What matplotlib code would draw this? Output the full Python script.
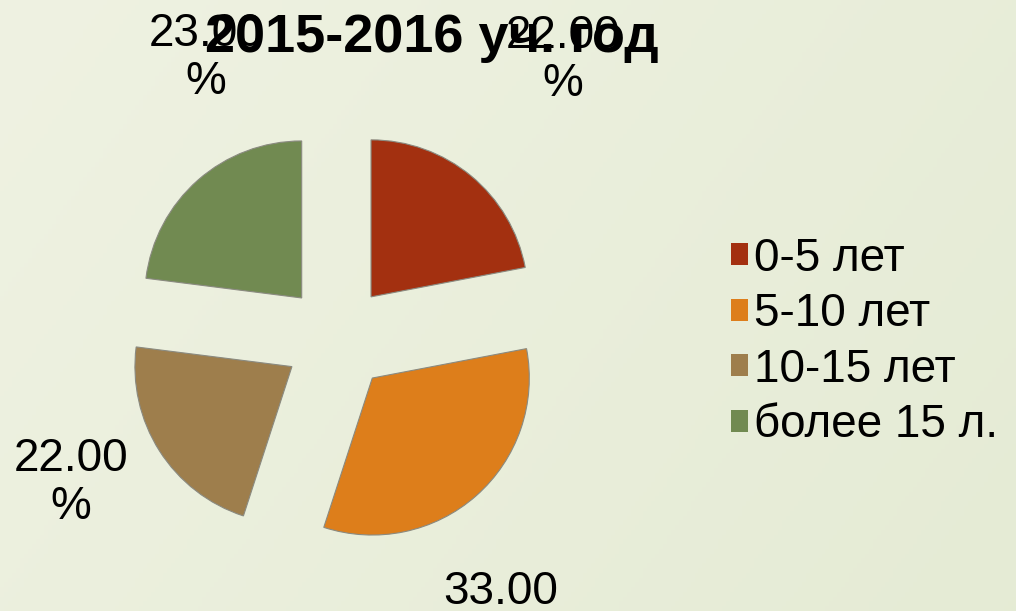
import numpy as np
import matplotlib
matplotlib.use("Agg")
import matplotlib.pyplot as plt

plt.rcParams['font.family'] = ['Liberation Sans', 'DejaVu Sans']

# data
categories = ['0-5 лет', '5-10 лет', '10-15 лет', 'более 15 л.']
shares = [22, 33, 22, 23]
colors = ['#A33010', '#DD7E1B', '#9E7E4C', '#718A51']
title = '2015-2016 уч. год'

# where the percent labels sit (data units, pie centre = 0,0)
label_pos = [(1.44, 1.77), (1.045, -1.77), (-1.694, -0.924), (-0.834, 1.783)]

W, H = 1016, 611
R_PX = 157.0
CX, CY = 337.0, 338.0

fig = plt.figure(figsize=(W / 100, H / 100), dpi=100)

# soft background gradient
bg = fig.add_axes([0, 0, 1, 1], zorder=0)
gx = np.linspace(0, 1, 256)
gy = np.linspace(0, 1, 128)
gg = (gx[None, :] * 0.7 + gy[:, None] * 0.3)
c0 = np.array([0.937, 0.949, 0.886])
c1 = np.array([0.898, 0.922, 0.835])
img = c0[None, None, :] * (1 - gg[..., None]) + c1[None, None, :] * gg[..., None]
bg.imshow(img, aspect='auto', extent=[0, 1, 0, 1], origin='upper')
bg.axis('off')

ax = fig.add_axes([0, 0, 1, 1], zorder=1)
ax.patch.set_alpha(0)

wedges, texts, autotexts = ax.pie(
    shares, colors=colors, startangle=90, counterclock=False,
    explode=[0.34] * len(shares), autopct='%.2f\n%%', pctdistance=1.9,
    wedgeprops=dict(edgecolor='#8a8a80', linewidth=0.8),
    textprops=dict(fontsize=33, color='black'))

for t, (x, y) in zip(autotexts, label_pos):
    t.set_position((x, y))
    t.set_ha('center')
    t.set_va('center')
    t.set_multialignment('center')
    t.set_linespacing(1.1)
    t.set_clip_on(False)

ax.set_aspect('auto')
xmin = -CX / R_PX
ymin = -(H - CY) / R_PX
ax.set_xlim(xmin, xmin + W / R_PX)
ax.set_ylim(ymin, ymin + H / R_PX)
ax.axis('off')

fig.text(432 / W, 1 - 38 / H, title, fontsize=39, fontweight='bold',
         ha='center', va='center', zorder=5)

leg = fig.legend(wedges, categories, loc='center left',
                 bbox_to_anchor=(731 / W, 1 - 342 / H), frameon=False,
                 fontsize=33, handlelength=0.36, handleheight=0.36,
                 handletextpad=0.15, labelspacing=0.25, borderpad=0,
                 borderaxespad=0)
for h in leg.legend_handles:
    h.set_edgecolor('none')

fig.savefig('out.png', dpi=100)
